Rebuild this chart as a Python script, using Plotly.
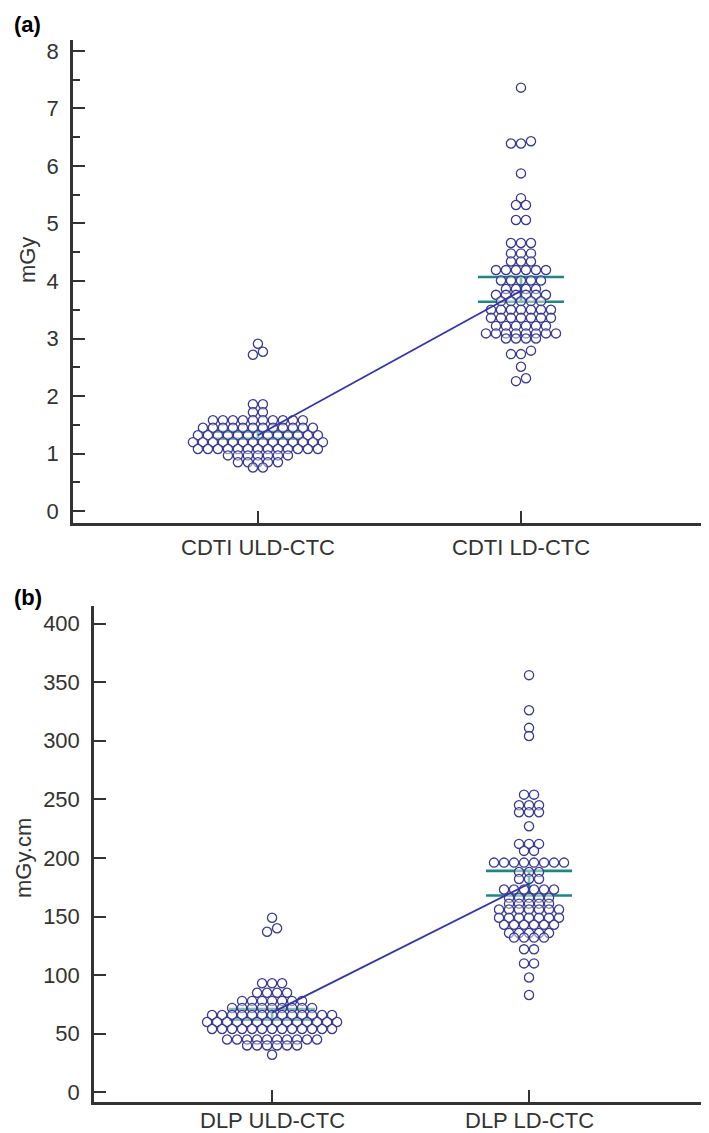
import plotly.graph_objects as go

# ---------------- data ----------------
cat_a = ["CDTI ULD-CTC", "CDTI LD-CTC"]
cat_b = ["DLP ULD-CTC", "DLP LD-CTC"]

cdti_uld = [2.91, 2.77, 2.72,
            1.86, 1.86,
            1.72, 1.72,
            1.58, 1.58, 1.58, 1.58, 1.58, 1.58, 1.58, 1.58, 1.58, 1.58,
            1.45, 1.45, 1.45, 1.45, 1.45, 1.45, 1.45, 1.45, 1.45, 1.45, 1.45, 1.45,
            1.32, 1.32, 1.32, 1.32, 1.32, 1.32, 1.32, 1.32, 1.32, 1.32, 1.32, 1.32, 1.32,
            1.20, 1.20, 1.20, 1.20, 1.20, 1.20, 1.20, 1.20, 1.20, 1.20, 1.20, 1.20, 1.20, 1.20,
            1.08, 1.08, 1.08, 1.08, 1.08, 1.08, 1.08, 1.08, 1.08, 1.08, 1.08, 1.08, 1.08,
            0.97, 0.97, 0.97, 0.97, 0.97, 0.97, 0.97,
            0.85, 0.85, 0.85, 0.85, 0.85,
            0.76, 0.76]

cdti_ld = [7.36,
           6.39, 6.39, 6.43,
           5.87,
           5.44,
           5.32, 5.32,
           5.06, 5.06,
           4.66, 4.66, 4.66,
           4.48, 4.48, 4.48,
           4.34, 4.34, 4.34,
           4.19, 4.19, 4.19, 4.19, 4.19, 4.19,
           4.01, 4.01, 4.01, 4.01, 4.01,
           3.86, 3.86, 3.86, 3.86,
           3.76, 3.76, 3.76, 3.76, 3.76, 3.76,
           3.65, 3.65, 3.65, 3.65, 3.65,
           3.50, 3.50, 3.50, 3.50, 3.50, 3.50, 3.50,
           3.36, 3.36, 3.36, 3.36, 3.36, 3.36, 3.36,
           3.22, 3.22, 3.22, 3.22, 3.22, 3.22,
           3.09, 3.09, 3.09, 3.09, 3.09, 3.09, 3.09, 3.09,
           3.00, 3.00, 3.00, 3.00,
           2.73, 2.73, 2.79,
           2.51,
           2.26, 2.31]

dlp_uld = [149, 137, 140,
           93, 93, 93,
           85, 85, 85, 85,
           78, 78, 78, 78, 78, 78, 78,
           72, 72, 72, 72, 72, 72, 72, 72, 72,
           66, 66, 66, 66, 66, 66, 66, 66, 66, 66, 66, 66, 66,
           60, 60, 60, 60, 60, 60, 60, 60, 60, 60, 60, 60, 60, 60,
           54, 54, 54, 54, 54, 54, 54, 54, 54, 54, 54, 54, 54,
           45, 45, 45, 45, 45, 45, 45, 45, 45, 45,
           40, 40, 40, 40, 40, 40,
           32]

dlp_ld = [356,
          326,
          311,
          304,
          254, 254,
          245, 245, 245,
          239, 239, 239,
          227,
          212, 212, 212,
          206, 206,
          196, 196, 196, 196, 196, 196, 196, 196,
          188, 188, 188,
          182, 182, 182,
          173, 173, 173, 173, 173, 173,
          166, 166, 166, 166, 166,
          161, 161, 161, 161, 161,
          156, 156, 156, 156, 156, 156, 156,
          149, 149, 149, 149, 149, 149, 149,
          143, 143, 143, 143, 143, 143,
          136, 136, 136, 136, 136,
          132, 132, 132, 132,
          122, 122,
          110, 110,
          98,
          83]

# means and 95% CI of the mean
mean_a = [1.32, 3.83]
ci_lo_a = [1.26, 3.64]
ci_hi_a = [1.38, 4.07]
mean_b = [68, 178]
ci_lo_b = [62, 168]
ci_hi_b = [71, 189]

yticks_a = [0, 1, 2, 3, 4, 5, 6, 7, 8]
yticks_b = [0, 50, 100, 150, 200, 250, 300, 350, 400]

# ---------------- layout geometry (px) ----------------
W, H = 709, 1133
A = dict(x0=65, x1=705, yt=31, yb=516, xr=[-0.703, 1.730], yr=[-0.208, 8.19])
B = dict(x0=86, x1=705, yt=599, yb=1097, xr=[-0.693, 1.716], yr=[-8.4, 415.1])
SPACE = 10.0      # horizontal spacing of dots in a row (px)
ROWTOL = 4.0      # values closer than this (px) share a row
HALF_CI = 43      # half width of CI bars in px

INK = "#333333"
DOT = "#3b3b8e"
MEANC = "#3535a8"
TEAL = "#1f8585"
FONT = "Liberation Sans, Arial, sans-serif"


def scales(P):
    pxx = (P["x1"] - P["x0"]) / (P["xr"][1] - P["xr"][0])
    pxy = (P["yb"] - P["yt"]) / (P["yr"][1] - P["yr"][0])
    return pxx, pxy


def dotplot_offsets(vals, pxy):
    """Group values into horizontal rows and spread each row symmetrically."""
    order = sorted(range(len(vals)), key=lambda i: vals[i])
    rows, cur = [], []
    for i in order:
        if cur and (vals[i] - vals[cur[0]]) * pxy > ROWTOL:
            rows.append(cur)
            cur = []
        cur.append(i)
    if cur:
        rows.append(cur)
    offs = [0.0] * len(vals)
    for r in rows:
        m = len(r)
        for j, i in enumerate(r):
            offs[i] = (j - (m - 1) / 2) * SPACE
    return offs


fig = go.Figure()


def add_panel(P, groups, means, lo, hi, xa, ya):
    pxx, pxy = scales(P)
    hw = HALF_CI / pxx
    tx, ty = [], []
    for k in range(2):
        tx += [k - hw, k + hw, None, k - hw, k + hw, None, k, k, None]
        ty += [lo[k], lo[k], None, hi[k], hi[k], None, lo[k], hi[k], None]
    fig.add_trace(go.Scatter(x=tx, y=ty, mode="lines", xaxis=xa, yaxis=ya,
                             line=dict(color=TEAL, width=2.6), hoverinfo="skip",
                             showlegend=False))
    for k, vals in enumerate(groups):
        offs = dotplot_offsets(vals, pxy)
        fig.add_trace(go.Scatter(
            x=[k + o / pxx for o in offs], y=vals, mode="markers",
            xaxis=xa, yaxis=ya, showlegend=False,
            marker=dict(symbol="circle", size=9.2, color="rgba(255,255,255,0.45)",
                        line=dict(color=DOT, width=1.3))))
    fig.add_trace(go.Scatter(x=[0, 1], y=means, mode="lines", xaxis=xa, yaxis=ya,
                             line=dict(color=MEANC, width=1.8), showlegend=False))


add_panel(A, [cdti_uld, cdti_ld], mean_a, ci_lo_a, ci_hi_a, "x", "y")
add_panel(B, [dlp_uld, dlp_ld], mean_b, ci_lo_b, ci_hi_b, "x2", "y2")


def xaxis(P):
    return dict(domain=[P["x0"] / W, P["x1"] / W], range=P["xr"], showgrid=False,
                zeroline=False, showline=True, linecolor=INK, linewidth=2.5,
                tickvals=[0, 1], ticktext=["", ""], ticks="inside", ticklen=12,
                tickwidth=1.5, tickcolor=INK)


def yaxis(P, ticks, minor=None):
    d = dict(domain=[1 - P["yb"] / H, 1 - P["yt"] / H], range=P["yr"], showgrid=False,
             zeroline=False, showline=True, linecolor=INK, linewidth=2.5,
             tickvals=ticks, ticks="inside", ticklen=12, tickwidth=2, tickcolor=INK,
             ticklabelstandoff=7,
             tickfont=dict(family=FONT, size=22, color=INK))
    if minor:
        d["minor"] = dict(ticks="inside", ticklen=7, tickwidth=1.5, tickcolor=INK,
                          dtick=minor, showgrid=False)
    return d


annotations = [
    dict(text="<b>(a)</b>", x=4 / W, y=1 - 16 / H, xref="paper", yref="paper",
         xanchor="left", yanchor="middle", showarrow=False,
         font=dict(family=FONT, size=22, color="black")),
    dict(text="<b>(b)</b>", x=4 / W, y=1 - 591 / H, xref="paper", yref="paper",
         xanchor="left", yanchor="middle", showarrow=False,
         font=dict(family=FONT, size=22, color="black")),
    dict(text="mGy", x=19 / W, y=1 - 252 / H, xref="paper", yref="paper",
         textangle=-90, showarrow=False, xanchor="center", yanchor="middle",
         font=dict(family=FONT, size=22, color=INK)),
    dict(text="mGy.cm", x=16 / W, y=1 - 852 / H, xref="paper", yref="paper",
         textangle=-90, showarrow=False, xanchor="center", yanchor="middle",
         font=dict(family=FONT, size=22, color=INK)),
]
# category labels under each panel
for P, labels, ylab in ((A, cat_a, 540), (B, cat_b, 1115)):
    pxx, _ = scales(P)
    for k, lab in enumerate(labels):
        xpx = P["x0"] + (k - P["xr"][0]) * pxx
        annotations.append(dict(text=lab, x=xpx / W, y=1 - ylab / H, xref="paper",
                                yref="paper", xanchor="center", yanchor="middle",
                                showarrow=False, borderpad=0,
                                font=dict(family=FONT, size=22, color=INK)))

fig.update_layout(
    width=W, height=H, margin=dict(l=0, r=0, t=0, b=0),
    paper_bgcolor="white", plot_bgcolor="white",
    xaxis=dict(xaxis(A), anchor="y"),
    yaxis=dict(yaxis(A, yticks_a, 0.5), anchor="x"),
    xaxis2=dict(xaxis(B), anchor="y2"),
    yaxis2=dict(yaxis(B, yticks_b), anchor="x2"),
    annotations=annotations,
)

fig.write_html("out.html")
